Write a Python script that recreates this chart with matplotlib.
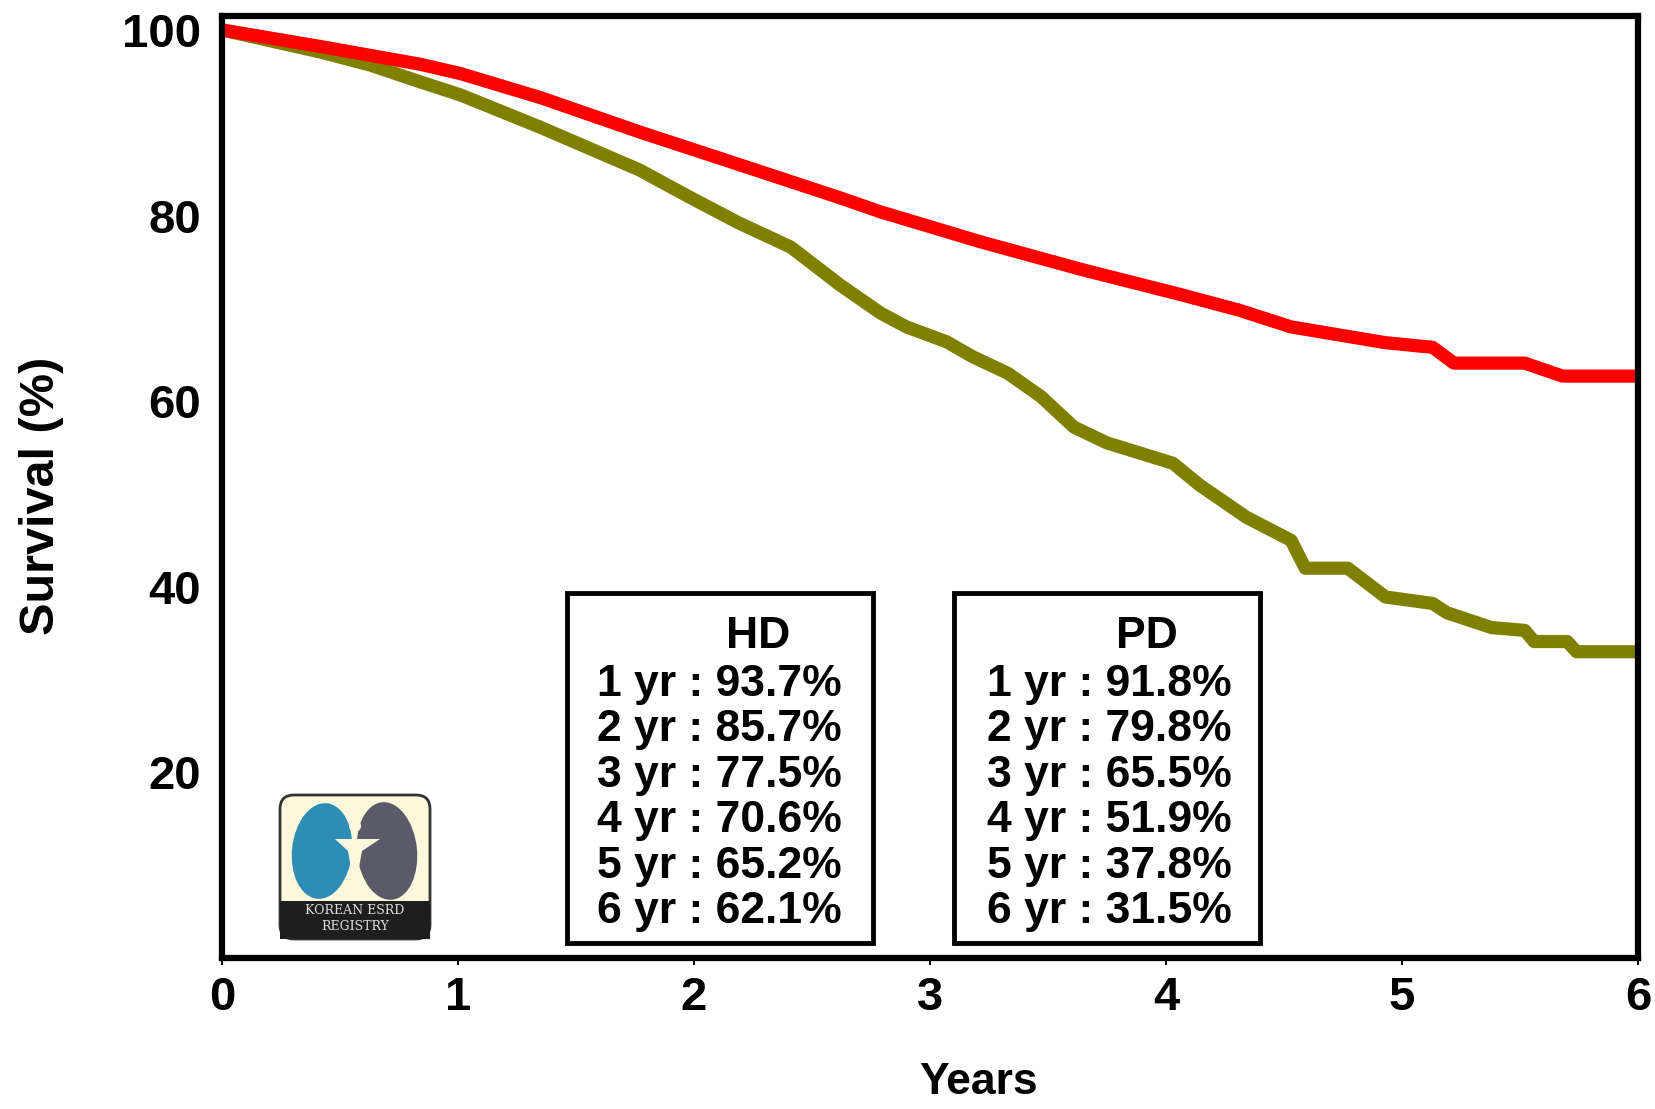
import matplotlib
matplotlib.use("Agg")
import matplotlib.pyplot as plt
from matplotlib.patches import Rectangle, FancyBboxPatch, Ellipse, Polygon, Circle

# ---------------- data ----------------
hd_years = [0, 0.42, 0.84, 1.01, 1.35, 1.77, 2.19, 2.62, 2.79, 3.21, 3.64, 4.06,
            4.31, 4.53, 4.93, 5.13, 5.22, 5.52, 5.68, 6.0]
hd_surv = [100, 98.2, 96.3, 95.3, 92.7, 89.0, 85.5, 81.9, 80.4, 77.2, 74.2, 71.5,
           69.8, 68.0, 66.3, 65.8, 64.1, 64.1, 62.7, 62.7]

pd_years = [0, 0.42, 0.63, 0.84, 1.01, 1.35, 1.77, 1.98, 2.19, 2.41, 2.62, 2.79,
            2.90, 3.07, 3.18, 3.33, 3.47, 3.61, 3.75, 4.03, 4.14, 4.34, 4.53,
            4.59, 4.77, 4.93, 5.13, 5.19, 5.38, 5.52, 5.56, 5.70, 5.74, 6.0]
pd_surv = [100, 97.6, 96.2, 94.4, 93.0, 89.5, 84.9, 82.0, 79.2, 76.6, 72.5, 69.5,
           68.0, 66.4, 64.8, 63.0, 60.5, 57.2, 55.5, 53.3, 51.0, 47.5, 45.0,
           42.0, 42.0, 38.9, 38.2, 37.2, 35.6, 35.3, 34.1, 34.1, 33.0, 33.0]

x_ticks = [0, 1, 2, 3, 4, 5, 6]
y_ticks = [20, 40, 60, 80, 100]

hd_title = "HD"
hd_lines = ["1 yr : 93.7%", "2 yr : 85.7%", "3 yr : 77.5%",
            "4 yr : 70.6%", "5 yr : 65.2%", "6 yr : 62.1%"]
pd_title = "PD"
pd_lines = ["1 yr : 91.8%", "2 yr : 79.8%", "3 yr : 65.5%",
            "4 yr : 51.9%", "5 yr : 37.8%", "6 yr : 31.5%"]

# ---------------- style ----------------
plt.rcParams['font.family'] = ['Liberation Sans', 'DejaVu Sans']
plt.rcParams['font.weight'] = 'bold'

W, H = 1655, 1109
fig = plt.figure(figsize=(W / 100, H / 100), dpi=100)
fig.patch.set_facecolor('white')

ax_left, ax_right, ax_top, ax_bottom = 222, 1638, 16, 958
ax = fig.add_axes([ax_left / W, 1 - ax_bottom / H,
                   (ax_right - ax_left) / W, (ax_bottom - ax_top) / H])

ax.plot(hd_years, hd_surv, color='#ff0000', lw=9.5, solid_joinstyle='round',
        solid_capstyle='butt', zorder=3)
ax.plot(pd_years, pd_surv, color='#808000', lw=9.5, solid_joinstyle='round',
        solid_capstyle='butt', zorder=2)

ax.set_xlim(0, 6)
ax.set_ylim(0, 101.5)
ax.set_xticks(x_ticks)
ax.set_xticklabels([str(v) for v in x_ticks])
ax.set_yticks(y_ticks)
ax.set_yticklabels([str(v) for v in y_ticks])

for s in ax.spines.values():
    s.set_linewidth(4.5)
    s.set_color('black')
    s.set_zorder(5)

ax.tick_params(axis='x', direction='out', length=5, width=1.5, pad=8,
               labelsize=34)
ax.tick_params(axis='y', length=0, pad=15, labelsize=34)
for lab in ax.get_xticklabels() + ax.get_yticklabels():
    lab.set_fontweight('bold')

fig.text(42 / W, 1 - 496 / H, "Survival (%)", rotation=90, ha='center',
         va='center', fontsize=35, fontweight='bold')
fig.text(979 / W, 1 - 1083 / H, "Years", ha='center', va='center',
         fontsize=32, fontweight='bold')

# ---------------- stat boxes ----------------
def stat_box(x0, x1, title, title_x, lines, line_x):
    ax.add_patch(Rectangle((x0, 1.6), x1 - x0, 37.7, facecolor='white',
                           edgecolor='black', lw=3.5, zorder=4))
    ax.text(title_x, 34.6, title, ha='center', va='center', fontsize=32,
            fontweight='bold', zorder=6)
    ys = [29.5, 24.6, 19.7, 14.8, 9.9, 5.0]
    for y, t in zip(ys, lines):
        ax.text(line_x, y, t, ha='left', va='center', fontsize=32,
                fontweight='bold', zorder=6)

stat_box(1.46, 2.76, hd_title, 2.27, hd_lines, 1.59)
stat_box(3.10, 4.40, pd_title, 3.92, pd_lines, 3.24)

# ---------------- logo ----------------
lg = fig.add_axes([278 / W, 1 - 942 / H, 154 / W, 149 / H])
lg.set_xlim(0, 154)
lg.set_ylim(149, 0)
lg.axis('off')
cream = '#fbf8dc'
lg.add_patch(FancyBboxPatch((2, 2), 150, 144, boxstyle="round,pad=0,rounding_size=14",
                            facecolor=cream, edgecolor='#333333', lw=2))
lg.add_patch(Rectangle((2, 108), 150, 38, facecolor='#1e1e1e', edgecolor='none'))
lg.add_patch(Ellipse((44, 58), 60, 96, angle=6, facecolor='#2f8db5', edgecolor='none'))
lg.add_patch(Ellipse((109, 58), 60, 98, angle=-6, facecolor='#5b5a68', edgecolor='none'))
lg.add_patch(Circle((77, 33), 6, facecolor=cream, edgecolor='none'))
lg.add_patch(Polygon([(57, 46), (102, 46), (84, 58), (80, 80), (74, 80), (70, 58)],
                     closed=True, facecolor=cream, edgecolor='none'))
lg.text(77, 118, "KOREAN ESRD", ha='center', va='center', color='#dddddd',
        fontsize=9, family='DejaVu Serif', fontweight='normal')
lg.text(77, 134, "REGISTRY", ha='center', va='center', color='#dddddd',
        fontsize=9, family='DejaVu Serif', fontweight='normal')

fig.savefig("out.png", dpi=100, facecolor='white')
